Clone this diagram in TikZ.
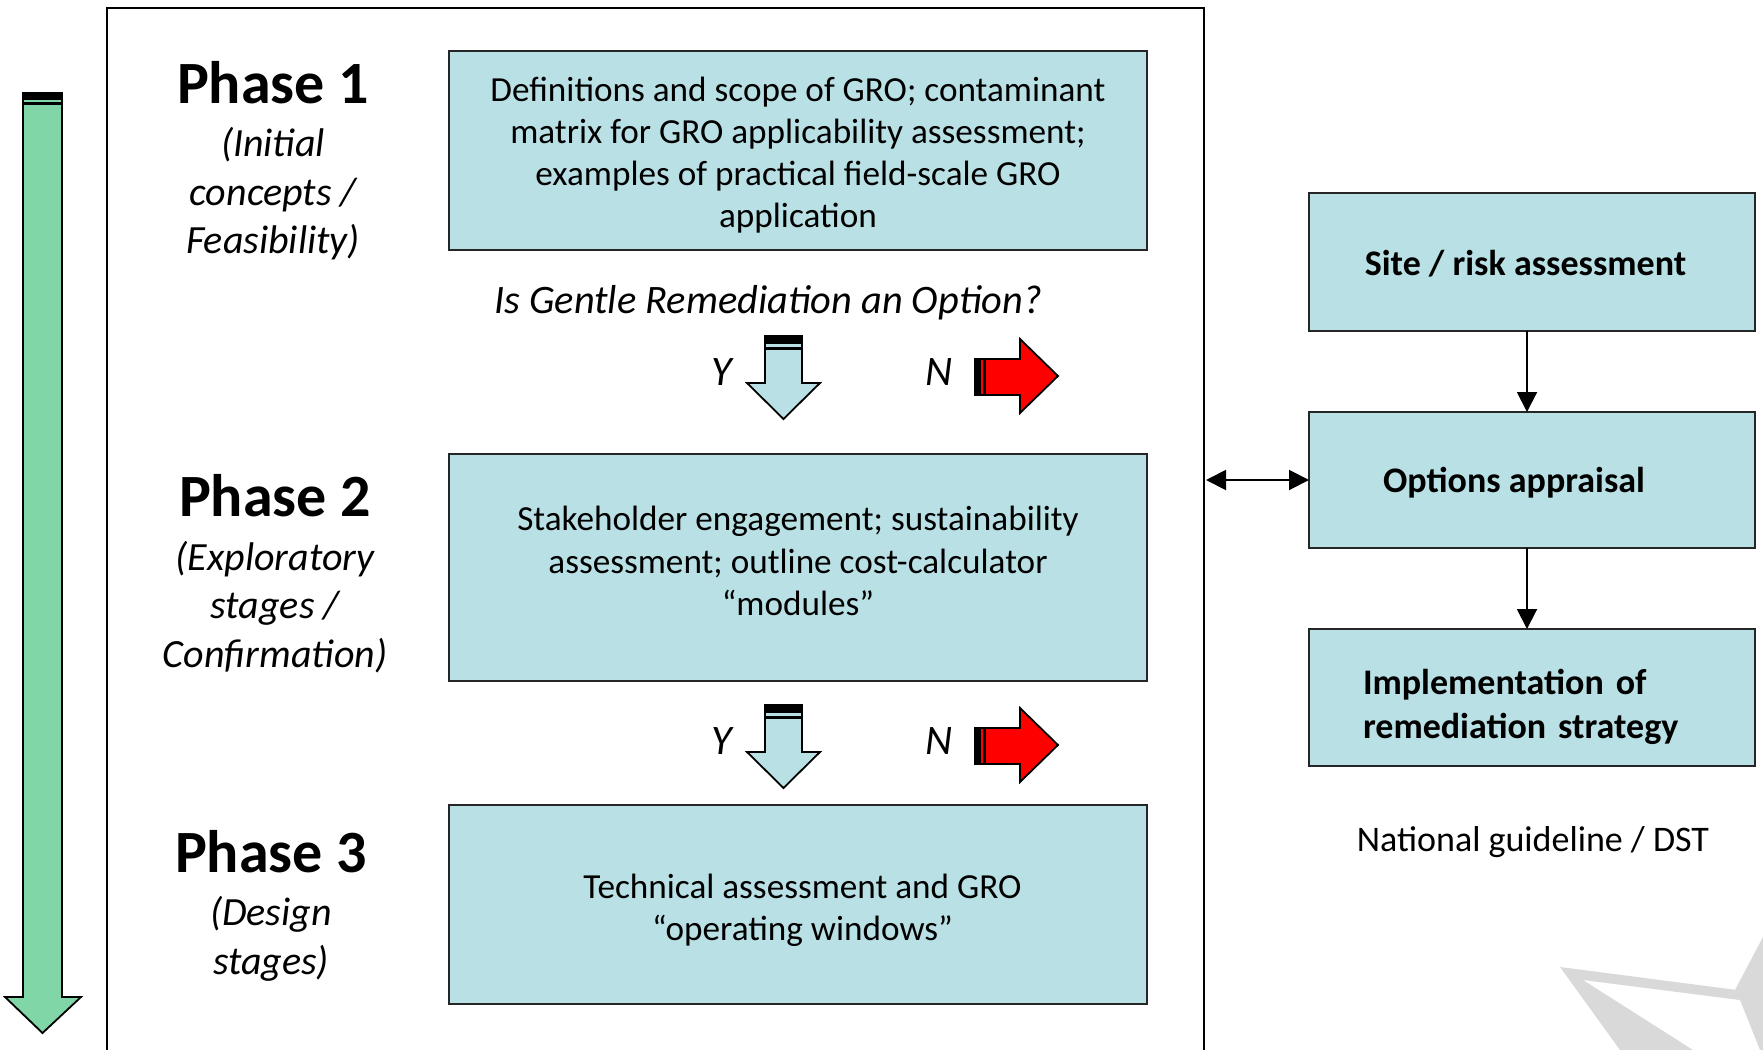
\documentclass[tikz,border=0pt]{standalone}
\usepackage{fontspec}
\setmainfont{Carlito}
\usetikzlibrary{arrows.meta,calc}
\definecolor{boxfill}{RGB}{185,224,228}
\definecolor{arrgreen}{RGB}{128,214,166}
\definecolor{wmgray}{RGB}{217,217,217}
\begin{document}
\begin{tikzpicture}[x=0.5pt,y=-0.5pt,
  box/.style={draw=black!85, line width=1pt, fill=boxfill, inner sep=0pt, outer sep=0pt},
  boxtext/.style={inner sep=0pt, align=center, font=\fontsize{17.6}{21.1}\selectfont},
  rbox/.style={draw=black!85, line width=1pt, fill=boxfill, inner sep=0pt, outer sep=0pt, minimum width=223pt},
  rtext/.style={inner sep=0pt, font=\bfseries\fontsize{18}{22}\selectfont},
  phase/.style={font=\bfseries\fontsize{30}{36}\selectfont, inner sep=0pt},
  phsub/.style={font=\itshape\fontsize{20}{24.3}\selectfont, align=center, inner sep=0pt},
  yn/.style={font=\itshape\fontsize{21}{25}\selectfont, inner sep=0pt},
  blockarrow/.style={draw=black, line width=0.9pt, line join=miter},
  conn/.style={line width=1pt, -{Triangle[length=10pt,width=10pt]}},
  connboth/.style={line width=1pt, {Triangle[length=10pt,width=10pt]}-{Triangle[length=10pt,width=10pt]}}
]
\useasboundingbox (0,0) rectangle (1763,1050);

% watermark
\fill[wmgray] (1560,967) -- (1737,990) -- (1740,1000) -- (1583,980) -- (1693,1050) -- (1620,1050) -- cycle;
\fill[wmgray] (1735,990) -- (1763,937) -- (1763,1050) -- (1760,1050) -- (1740,1000) -- cycle;

% outer frame
\draw[line width=1.3pt] (107,1050) -- (107,8) -- (1204,8) -- (1204,1050);

% green progress arrow
\draw[blockarrow, fill=arrgreen] (23,93) -- (62,93) -- (62,997) -- (81,997) -- (42.5,1033) -- (5,997) -- (23,997) -- cycle;
\fill (23,93) rectangle (62,99.5);
\fill (23,102) rectangle (62,105);

% phase labels
\node[phase] (p1) at (273,83) {Phase 1};
\node[phsub] (p1s) at (273,194) {(Initial\\concepts /\\Feasibility)};
\node[phase] (p2) at (275,496) {Phase 2};
\node[phsub] (p2s) at (275,607) {(Exploratory\\stages /\\Confirmation)};
\node[phase] (p3) at (271,852) {Phase 3};
\node[phsub] (p3s) at (271,939) {(Design\\stages)};

% phase boxes
\node[box, minimum width=349pt, minimum height=99.5pt] (b1) at (798,150.5) {};
\node[boxtext] (b1t) at ($(b1.center)+(0,4.5)$)
  {Definitions and scope of GRO; contaminant\\matrix for GRO applicability assessment;\\examples of practical field-scale GRO\\application};
\node[box, minimum width=349pt, minimum height=113.5pt] (b2) at (798,567.5) {};
\node[boxtext] (b2t) at ($(b2.center)+(0,-6.5)$)
  {Stakeholder engagement; sustainability\\assessment;  outline cost-calculator\\“modules”};
\node[box, minimum width=349pt, minimum height=99.5pt] (b3) at (798,904.5) {};
\node[boxtext] (b3t) at ($(b3.center)+(4.5,6)$)
  {Technical assessment  and GRO\\“operating windows”};

\node[font=\itshape\fontsize{20.2}{24}\selectfont, inner sep=0pt] (q) at (768,302.5) {Is Gentle Remediation an Option?};

% Y / N arrows
\foreach \dy/\nm in {0/1,369/2} {
  \begin{scope}[shift={(0,\dy)}]
    \draw[blockarrow, fill=boxfill] (765,336) -- (802,336) -- (802,383) -- (820,383) -- (783.5,419) -- (747,383) -- (765,383) -- cycle;
    \fill (765,336) rectangle (802,344);
    \fill (765,346.5) rectangle (802,349.5);
    \draw[blockarrow, fill=red] (975,359) -- (1020,359) -- (1020,339) -- (1058,376) -- (1020,413) -- (1020,395) -- (975,395) -- cycle;
    \fill (975,359) rectangle (981,395);
    \fill (983,359) rectangle (986,395);
    \node[yn] (y\nm) at (722,372) {Y};
    \node[yn] (n\nm) at (939,372) {N};
  \end{scope}
}

% right column
\node[rbox, minimum height=69pt] (ra) at (1532,262) {};
\node[rtext] (rat) at (1525.5,264) {Site / risk assessment};
\node[rbox, minimum height=68pt] (rb) at (1532,480) {};
\node[rtext] (rbt) at (1514,483) {Options appraisal};
\node[rbox, minimum height=68.5pt] (rc) at (1532,697.5) {};
\node[rtext, text width=169pt, align=left] (rct) at (1532,706.5) {Implementation of\\remediation strategy};
\node[font=\fontsize{18}{22}\selectfont, inner sep=0pt] (ng) at (1533,842) {National guideline / DST};

\coordinate (fr) at (1206,480);
\coordinate (vx) at (1527,0);
\draw[connboth] (fr) -- (rb.west);
\draw[conn] (ra.south -| vx) -- (rb.north -| vx);
\draw[conn] (rb.south -| vx) -- (rc.north -| vx);
\end{tikzpicture}
\end{document}
